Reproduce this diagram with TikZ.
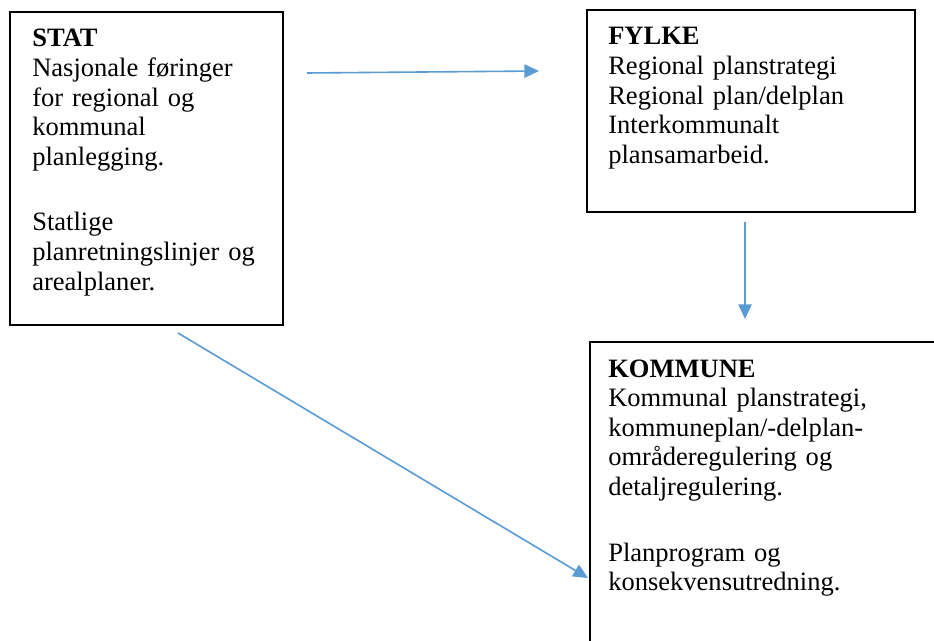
\documentclass[tikz,border=0pt]{standalone}
\usepackage{fontspec}
\setmainfont{Liberation Serif}
\usetikzlibrary{arrows.meta}
\definecolor{arrowblue}{RGB}{91,155,213}
\begin{document}
\begin{tikzpicture}[x=0.75pt,y=-0.75pt,
  frame/.style={draw=black, line width=1.1pt, anchor=north west, inner sep=0pt, outer sep=0pt},
  txt/.style={anchor=base west, inner sep=0pt, text width=260pt, align=left, font=\fontsize{19.9pt}{22.2pt}\selectfont},
  conn/.style={draw=arrowblue, line width=1.2pt, -{Triangle[length=11pt,width=10pt]}}]
\useasboundingbox (0,0) rectangle (934,641);
\clip (0,0) rectangle (934,641);
\fill[white] (0,0) rectangle (934,641);
% boxes
\node[frame, minimum width=204.75pt, minimum height=234.75pt] (stat) at (10,12) {};
\draw[line width=2.2pt] (stat.north west) -- (stat.south west);
\node[frame, line width=2.2pt, minimum width=246pt, minimum height=151.5pt] (fylke) at (587,10) {};
\node[frame, minimum width=300pt, minimum height=247.5pt] (kommune) at (590,342) {};
% texts
\node[txt] (stattext) at (32,47) {\textbf{STAT}\\Nasjonale føringer\\for regional og\\kommunal\\planlegging.\\[27pt]Statlige\\planretningslinjer og\\arealplaner.};
\node[txt] (fylketext) at (608,45) {\textbf{FYLKE}\\Regional planstrategi\\Regional plan/delplan\\Interkommunalt\\plansamarbeid.};
\node[txt] (kommunetext) at (608,377) {\textbf{KOMMUNE}\\Kommunal planstrategi,\\kommuneplan/-delplan-\\områderegulering og\\detaljregulering.\\[27pt]Planprogram og\\konsekvensutredning.};
% arrow end points
\coordinate (h1) at (307,73);
\coordinate (h2) at (539,71);
\coordinate (v1) at (745,222);
\coordinate (v2) at (745,319);
\coordinate (d1) at (178,333);
\coordinate (d2) at (588,578);
\draw[conn] (h1) -- (h2);
\draw[conn] (v1) -- (v2);
\draw[conn] (d1) -- (d2);
\end{tikzpicture}
\end{document}
